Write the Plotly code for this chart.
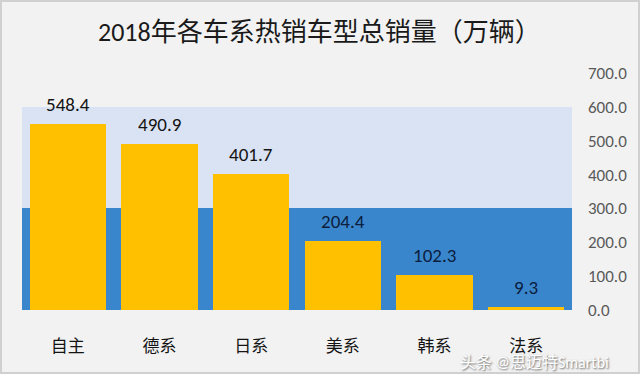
import plotly.graph_objects as go

categories = ["自主", "德系", "日系", "美系", "韩系", "法系"]
sales = [548.4, 490.9, 401.7, 204.4, 102.3, 9.3]
band_low = [300] * 6
band_high = [300] * 6
tick_vals = [0, 100, 200, 300, 400, 500, 600, 700]

title_text = "2018年各车系热销车型总销量（万辆）"
watermark = "头条 @思迈特Smartbi"

FONT = "Calibri, 'Noto Sans CJK SC', 'Noto Sans', sans-serif"

fig = go.Figure()
fig.add_trace(go.Bar(x=categories, y=band_low, width=1, marker_color="#3A86CC",
                     marker_line_width=0, hoverinfo="skip"))
fig.add_trace(go.Bar(x=categories, y=band_high, base=band_low, width=1,
                     marker_color="#DAE3F3", marker_line_width=0, hoverinfo="skip"))
fig.add_trace(go.Bar(x=categories, y=sales, width=0.83, marker_color="#FFC000",
                     marker_line_width=0))

for c, v in zip(categories, sales):
    fig.add_annotation(x=c, y=v, text=f"{v:.1f}", showarrow=False, yanchor="bottom",
                       yshift=6, font=dict(size=19, color="#141414" if v > 300 else "#0B1E3D",
                                           family=FONT))

fig.add_annotation(xref="paper", yref="paper", x=0.5, y=1, yshift=41, xshift=22,
                   text=title_text, showarrow=False, yanchor="middle",
                   font=dict(size=26, color="#1A1A1A", family=FONT))
fig.add_annotation(xref="paper", yref="paper", x=1.07, y=0, yshift=-52,
                   text=watermark, showarrow=False, xanchor="right", yanchor="middle",
                   font=dict(size=16, color="#FFFFFF", family=FONT,
                             shadow="1px 1px 2px #666666"))

fig.update_layout(
    width=640, height=374,
    margin=dict(l=22, r=68, t=73, b=64),
    paper_bgcolor="#F2F2F2", plot_bgcolor="#F2F2F2",
    barmode="overlay", bargap=0, showlegend=False,
    font=dict(family=FONT),
    shapes=[dict(type="rect", xref="paper", yref="paper", x0=-21/550, x1=1+67/550,
                 y0=-63/237, y1=1+72/237, line=dict(color="#D0D0D0", width=2),
                 fillcolor="rgba(0,0,0,0)")],
)
fig.update_xaxes(range=[-0.5, 5.5], showgrid=False, showline=False, zeroline=False,
                 ticks="outside", ticklen=0, ticklabelstandoff=21,
                 tickfont=dict(size=17, color="#141414", family=FONT))
fig.update_yaxes(range=[0, 700], side="right", tickvals=tick_vals, tickformat=".1f",
                 showgrid=False, zeroline=False, showline=False, ticklabelstandoff=15,
                 tickfont=dict(size=17, color="#595959", family=FONT))

fig.write_html("out.html", config={"displayModeBar": False},
               post_script="document.body.style.margin='0';document.body.style.overflow='hidden';")
